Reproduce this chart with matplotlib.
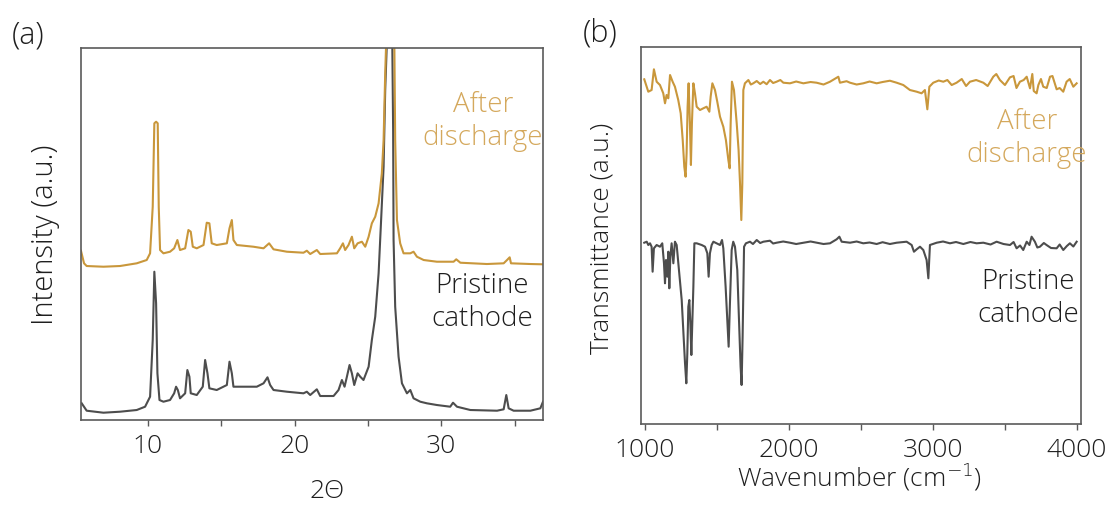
import matplotlib
matplotlib.use("Agg")
import matplotlib.pyplot as plt
from matplotlib.ticker import MultipleLocator

plt.rcParams['font.family'] = ['Open Sans', 'DejaVu Sans']
plt.rcParams['font.weight'] = 'light'

GOLD = '#C9973B'
GOLD_TEXT = '#D4A85C'
GRAY = '#4D4D4D'
INK = '#1E1E1E'
FRAME = '#5A5A5A'

# (a) XRD, 2-theta (deg) vs intensity (a.u.)
xrd_pristine_2t = [5.50, 5.84, 6.98, 8.11, 9.25, 9.82, 10.16, 10.34, 10.45, 10.57, 10.66, 10.80,
                   11.07, 11.52, 11.80, 11.93, 12.05, 12.20, 12.55, 12.70, 12.84, 12.93, 13.34,
                   13.75, 13.91, 14.07, 14.20, 14.70, 15.39, 15.57, 15.73, 15.84, 16.52, 17.43,
                   17.89, 18.16, 18.34, 18.57, 19.48, 20.61, 20.84, 21.07, 21.52, 21.75, 22.66,
                   23.00, 23.23, 23.41, 23.57, 23.75, 23.91, 24.07, 24.30, 24.48, 24.70, 25.05,
                   25.27, 25.50, 25.73, 25.89, 26.07, 26.18, 26.30, 26.55, 26.66, 26.72, 26.75,
                   26.86, 27.09, 27.32, 27.66, 27.89, 28.11, 28.57, 29.02, 29.70, 30.61, 30.80,
                   31.07, 31.98, 33.80, 34.25, 34.43, 34.59, 34.93, 36.07, 36.75, 36.93]
xrd_pristine_int = [16.7, 9.3, 7.3, 8.3, 10.0, 13.3, 23.3, 80.0, 148.3, 116.7, 46.7, 20.0,
                    18.3, 20.0, 26.7, 33.3, 30.0, 21.7, 26.7, 50.0, 43.3, 26.7, 25.0,
                    33.3, 60.0, 46.7, 31.7, 30.0, 35.0, 58.3, 46.7, 33.3, 33.3, 33.3,
                    36.7, 42.7, 35.0, 30.0, 28.3, 26.7, 28.3, 25.0, 30.7, 24.0, 24.0,
                    30.0, 40.0, 33.3, 43.3, 55.0, 46.7, 35.0, 46.7, 43.3, 40.0, 53.3,
                    80.0, 103.3, 146.7, 196.7, 253.3, 330.0, 380.0, 520.0, 380.0, 290.0, 180.0,
                    113.3, 63.3, 36.7, 26.7, 30.0, 21.7, 18.3, 16.7, 15.0, 13.3, 17.3,
                    13.3, 10.0, 9.3, 10.7, 25.0, 11.7, 9.3, 9.3, 11.7, 18.3]

xrd_after_2t = [5.45, 5.66, 5.84, 6.98, 8.11, 9.25, 9.93, 10.16, 10.34, 10.45, 10.57, 10.68,
                10.75, 10.84, 11.07, 11.52, 11.80, 12.02, 12.20, 12.55, 12.77, 12.93, 13.07,
                13.34, 13.80, 14.02, 14.20, 14.36, 14.70, 15.39, 15.57, 15.73, 15.84, 16.07,
                17.20, 17.89, 18.27, 18.57, 19.48, 20.61, 20.84, 21.07, 21.52, 21.75, 22.89,
                23.11, 23.30, 23.45, 23.68, 23.91, 24.07, 24.30, 24.59, 24.82, 25.05, 25.27,
                25.50, 25.73, 25.95, 26.07, 26.18, 26.25, 26.50, 26.80, 26.86, 26.98, 27.20,
                27.43, 27.89, 28.11, 28.34, 28.80, 29.70, 30.84, 31.02, 31.30, 33.11, 34.25,
                34.48, 34.66, 34.75, 36.07, 36.93]
xrd_after_int = [169.3, 156.7, 154.0, 153.3, 154.0, 156.7, 160.0, 166.7, 213.3, 296.7, 298.3, 296.7,
                 213.3, 170.0, 166.7, 168.3, 171.7, 180.0, 170.0, 171.7, 190.0, 188.3, 173.3,
                 171.7, 175.0, 197.3, 196.7, 176.7, 175.0, 176.7, 191.7, 200.0, 180.0, 175.0,
                 173.3, 171.7, 176.7, 170.7, 168.3, 167.3, 169.3, 166.0, 170.0, 166.0, 166.7,
                 171.7, 176.7, 170.0, 175.0, 183.3, 171.7, 176.7, 178.3, 173.3, 183.3, 196.7,
                 203.3, 216.7, 246.7, 280.0, 346.7, 380.0, 540.0, 380.0, 280.0, 200.0, 176.7,
                 166.7, 166.7, 168.3, 163.3, 160.0, 158.3, 158.3, 160.7, 157.3, 156.0, 156.7,
                 160.0, 162.7, 156.7, 156.0, 155.7]

# (b) FTIR, wavenumber (cm-1) vs transmittance (a.u.)
ftir_pristine_wn = [995, 1012, 1023, 1035, 1046, 1053, 1062, 1081, 1104, 1120, 1132, 1139, 1146,
                    1155, 1162, 1169, 1176, 1185, 1197, 1208, 1220, 1238, 1255, 1266, 1278, 1287,
                    1294, 1301, 1308, 1315, 1322, 1329, 1336, 1343, 1359, 1394, 1417, 1433, 1442,
                    1451, 1463, 1475, 1498, 1521, 1535, 1544, 1560, 1572, 1581, 1590, 1602, 1613,
                    1625, 1641, 1653, 1664, 1671, 1678, 1688, 1701, 1729, 1750, 1776, 1800, 1822,
                    1868, 1890, 1914, 1960, 2007, 2050, 2100, 2150, 2192, 2240, 2285, 2331, 2350,
                    2366, 2424, 2470, 2516, 2560, 2609, 2650, 2701, 2748, 2817, 2852, 2868, 2887,
                    2910, 2933, 2956, 2968, 2979, 3026, 3070, 3118, 3160, 3211, 3260, 3303, 3350,
                    3400, 3442, 3490, 3535, 3560, 3581, 3605, 3627, 3651, 3670, 3685, 3708, 3725,
                    3743, 3770, 3789, 3820, 3859, 3880, 3905, 3930, 3951, 3975, 3998]
ftir_pristine_t = [181.3, 182.3, 179.0, 180.7, 177.3, 152.3, 175.7, 179.0, 177.3, 180.7, 160.7, 140.7, 164.0,
                   147.3, 172.3, 135.7, 167.3, 180.7, 160.7, 182.3, 179.0, 150.7, 124.0, 94.0, 60.7, 40.7,
                   70.7, 117.3, 124.0, 100.7, 69.0, 104.0, 137.3, 180.7, 180.7, 179.0, 177.3, 170.7, 147.3,
                   170.7, 179.0, 182.3, 180.7, 179.0, 184.0, 175.7, 137.3, 104.0, 77.3, 120.7, 174.0, 182.3,
                   177.3, 154.0, 104.0, 57.3, 39.0, 87.3, 177.3, 180.7, 182.3, 180.0, 184.0, 181.0, 182.3,
                   183.3, 180.5, 181.3, 182.5, 181.3, 180.0, 181.3, 182.5, 181.3, 180.0, 180.7, 184.7, 187.3,
                   182.3, 181.3, 182.5, 180.7, 181.5, 180.0, 181.8, 180.0, 181.3, 182.3, 179.0, 172.3, 174.7,
                   177.3, 174.0, 164.0, 145.7, 179.0, 181.3, 182.5, 180.7, 182.0, 180.0, 182.0, 180.7, 181.3,
                   179.5, 182.3, 180.0, 179.0, 182.0, 175.7, 178.5, 174.0, 182.3, 179.0, 187.3, 182.3, 176.5,
                   177.3, 181.0, 179.0, 176.0, 175.7, 179.5, 174.0, 178.0, 180.7, 177.5, 182.3]

ftir_after_wn = [995, 1023, 1046, 1062, 1081, 1104, 1127, 1139, 1150, 1162, 1174, 1192, 1208,
                 1231, 1248, 1262, 1273, 1282, 1289, 1296, 1303, 1312, 1319, 1326, 1336, 1347,
                 1359, 1382, 1405, 1428, 1447, 1456, 1468, 1486, 1502, 1521, 1544, 1562, 1579,
                 1588, 1595, 1604, 1618, 1637, 1650, 1660, 1669, 1676, 1683, 1694, 1718, 1735,
                 1752, 1776, 1800, 1822, 1845, 1868, 1890, 1914, 1940, 1961, 2007, 2050, 2100,
                 2150, 2192, 2240, 2285, 2343, 2354, 2400, 2424, 2470, 2516, 2560, 2609, 2650,
                 2701, 2748, 2794, 2840, 2887, 2921, 2944, 2961, 2975, 3002, 3040, 3072, 3100,
                 3130, 3164, 3200, 3230, 3257, 3300, 3350, 3380, 3419, 3440, 3465, 3500, 3535,
                 3560, 3580, 3604, 3630, 3651, 3674, 3690, 3700, 3720, 3732, 3750, 3766, 3790,
                 3813, 3830, 3859, 3880, 3905, 3928, 3950, 3975, 3998]
ftir_after_t = [344.7, 332.3, 334.0, 354.7, 342.3, 339.0, 330.7, 320.7, 329.0, 325.7, 349.0, 342.3, 337.3,
                324.0, 310.7, 284.0, 257.3, 247.3, 270.7, 317.3, 340.7, 300.7, 259.0, 300.7, 340.7, 330.7,
                317.3, 314.0, 315.7, 317.3, 312.3, 327.3, 340.7, 334.0, 322.3, 307.3, 297.3, 284.0, 264.0,
                255.7, 300.7, 342.3, 334.0, 300.7, 274.0, 240.7, 204.0, 240.7, 334.0, 340.7, 344.0, 339.5,
                340.7, 343.0, 340.0, 342.3, 339.8, 344.0, 341.0, 342.3, 344.0, 341.3, 340.7, 342.5, 340.7,
                342.0, 341.3, 339.5, 342.3, 347.3, 341.3, 342.8, 341.3, 339.5, 340.7, 342.5, 340.7, 342.0,
                343.3, 341.3, 339.0, 334.0, 332.3, 330.7, 334.0, 314.7, 337.3, 341.3, 343.5, 342.3, 344.0,
                339.0, 341.3, 345.0, 338.0, 342.3, 344.0, 341.3, 338.0, 347.3, 350.0, 344.0, 339.0, 346.7,
                348.0, 336.0, 342.3, 344.0, 347.3, 335.7, 350.0, 333.0, 330.7, 339.0, 345.0, 337.3, 336.0,
                347.3, 348.0, 334.7, 336.0, 332.3, 342.3, 345.0, 337.3, 340.7]

fig = plt.figure(figsize=(11.12, 5.05), dpi=100)
ax_a = fig.add_axes([0.0728, 0.1683, 0.4155, 0.7366])
ax_b = fig.add_axes([0.5764, 0.1604, 0.3957, 0.7465])

ax_a.plot(xrd_pristine_2t, xrd_pristine_int, color=GRAY, lw=1.5)
ax_a.plot(xrd_after_2t, xrd_after_int, color=GOLD, lw=1.5)
ax_a.set_xlim(5.45, 36.93)
ax_a.set_ylim(0, 372)
ax_a.xaxis.set_major_locator(MultipleLocator(10))
ax_a.xaxis.set_minor_locator(MultipleLocator(5))

ax_b.plot(ftir_pristine_wn, ftir_pristine_t, color=GRAY, lw=1.5)
ax_b.plot(ftir_after_wn, ftir_after_t, color=GOLD, lw=1.5)
ax_b.set_xlim(972, 4028)
ax_b.set_ylim(0, 377)
ax_b.xaxis.set_major_locator(MultipleLocator(1000))
ax_b.xaxis.set_minor_locator(MultipleLocator(500))

for ax in (ax_a, ax_b):
    ax.set_yticks([])
    for s in ax.spines.values():
        s.set_color(FRAME)
        s.set_linewidth(1.2)
    ax.tick_params(axis='x', which='both', direction='out', length=4, width=1.0,
                   color=FRAME, labelsize=19, labelcolor=INK, pad=6)

txt = dict(fontsize=20, ha='center', va='center', linespacing=1.25)
ax_a.text(0.87, 0.802, "After\ndischarge", transform=ax_a.transAxes, color=GOLD_TEXT, **txt)
ax_a.text(0.868, 0.316, "Pristine\ncathode", transform=ax_a.transAxes, color=INK, **txt)
ax_b.text(0.877, 0.757, "After\ndischarge", transform=ax_b.transAxes, color=GOLD_TEXT, **txt)
ax_b.text(0.88, 0.332, "Pristine\ncathode", transform=ax_b.transAxes, color=INK, **txt)

fig.text(45 / 1112, 1 - 235 / 505, "Intensity (a.u.)", rotation=90, fontsize=21,
         ha='center', va='center', color=INK)
fig.text(602 / 1112, 1 - 238 / 505, "Transmittance (a.u.)", rotation=90, fontsize=19,
         ha='center', va='center', color=INK)
fig.text(327 / 1112, 1 - 491 / 505, "2\u0398", fontsize=19, ha='center', va='center', color=INK)
fig.text(860 / 1112, 1 - 477 / 505, "Wavenumber (cm$^{-1}$)", fontsize=19,
         ha='center', va='center', color=INK)
fig.text(28 / 1112, 1 - 35 / 505, "(a)", fontsize=22, ha='center', va='center', color=INK)
fig.text(600 / 1112, 1 - 33 / 505, "(b)", fontsize=22, ha='center', va='center', color=INK)

fig.savefig("out.png", dpi=100)
